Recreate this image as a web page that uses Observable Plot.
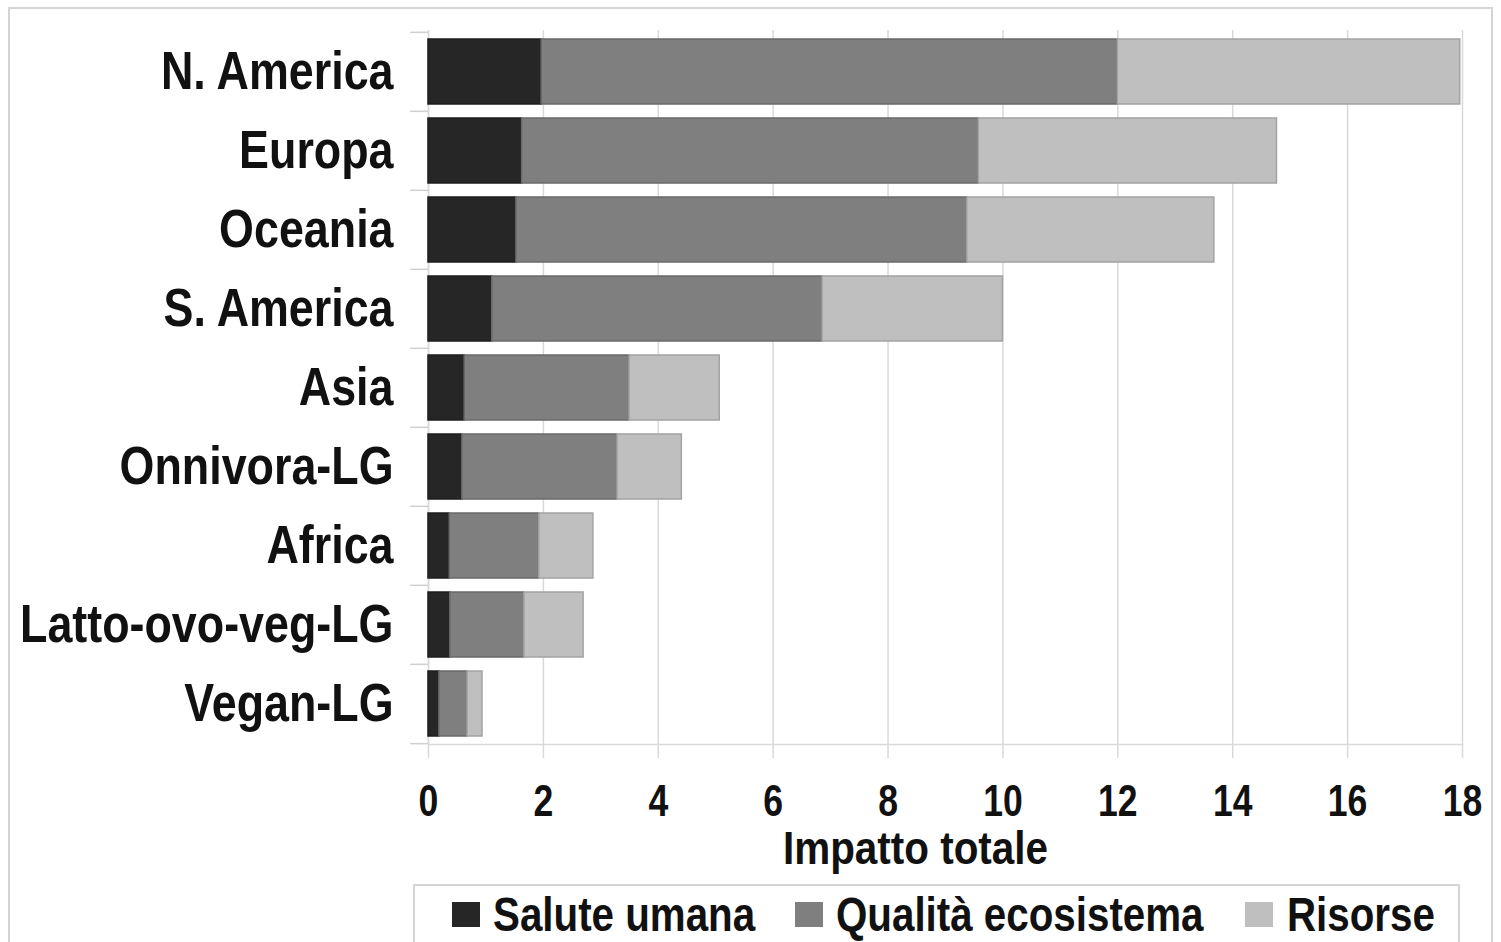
<!DOCTYPE html>
<html>
<head>
<meta charset="utf-8">
<script src="https://cdn.jsdelivr.net/npm/d3@7"></script>
<script src="https://cdn.jsdelivr.net/npm/@observablehq/plot@0.6"></script>
<style>
  html, body { margin: 0; padding: 0; background: #fff; }
  body { width: 1501px; height: 942px; position: relative; overflow: hidden;
         font-family: "Liberation Sans", Arial, sans-serif; font-weight: bold; }
  #frame { position: absolute; left: 8px; top: 7px; width: 1481px; height: 960px; border: 2px solid #d4d4d4; }
  #chart { position: absolute; left: 0; top: 0; }
  #legend { position: absolute; left: 413px; top: 884px; width: 1043px; height: 80px; border: 2px solid #d4d4d4; background: #fff; }
  .sw { position: absolute; top: 16px; width: 28px; height: 25px; }
  .lt { position: absolute; top: 5px; font-size: 48px; line-height: 48px; color: #111; white-space: nowrap;
        transform: scaleX(0.84); transform-origin: 0 50%; }
</style>
</head>
<body>
<div id="frame"></div>
<div id="chart"></div>
<div id="legend"></div>
<script>
// ---- data ----
const categories = ["N. America", "Europa", "Oceania", "S. America", "Asia", "Onnivora-LG", "Africa", "Latto-ovo-veg-LG", "Vegan-LG"];
const seriesNames = ["Salute umana", "Qualità ecosistema", "Risorse"];
const saluteUmana = [1.97, 1.63, 1.53, 1.11, 0.63, 0.59, 0.37, 0.38, 0.19];
const qualitaEcosistema = [10.03, 7.95, 7.85, 5.75, 2.87, 2.70, 1.56, 1.29, 0.49];
const risorse = [5.96, 5.19, 4.30, 3.14, 1.57, 1.12, 0.94, 1.03, 0.26];
const xTicks = [0, 2, 4, 6, 8, 10, 12, 14, 16, 18];
const axisTitle = "Impatto totale";
const fills = ["#262626", "#7f7f7f", "#bfbfbf"];
const strokes = ["#1e1e1e", "#6a6a6a", "#a3a3a3"];

// ---- table ----
const seriesValues = [saluteUmana, qualitaEcosistema, risorse];
const rows = [];
categories.forEach((c, i) => {
  let acc = 0;
  seriesValues.forEach((vals, s) => {
    rows.push({category: c, series: seriesNames[s], s, x1: acc, x2: acc + vals[i]});
    acc += vals[i];
  });
});

const W = 1501, H = 880, mTop = 30, mBottom = 136, mLeft = 428, mRight = 39;
const step = (H - mTop - mBottom) / categories.length;
const font = '"Liberation Sans", Arial, sans-serif';

const chart = Plot.plot({
  width: W,
  height: H,
  marginTop: mTop,
  marginBottom: mBottom,
  marginLeft: mLeft,
  marginRight: mRight,
  style: {fontFamily: font, fontWeight: "bold", color: "#111", background: "transparent", overflow: "visible"},
  x: {domain: [0, 18]},
  y: {domain: categories, paddingInner: 0.18, paddingOuter: 0.09},
  marks: [
    Plot.gridX(xTicks, {stroke: "#d9d9d9", strokeOpacity: 1, strokeWidth: 1.5}),
    Plot.frame({anchor: "bottom", stroke: "#d9d9d9", strokeWidth: 1.5}),
    Plot.frame({anchor: "left", stroke: "#d9d9d9", strokeWidth: 1.5}),
    // small band-boundary ticks on the category axis
    Plot.ruleY(categories, {y: d => d, x1: -0.31, x2: 0, dy: -step / 2, stroke: "#d0d0d0", strokeWidth: 1.5}),
    Plot.ruleY(categories.slice(-1), {y: d => d, x1: -0.31, x2: 0, dy: step / 2, stroke: "#d0d0d0", strokeWidth: 1.5}),
    ...seriesNames.map((name, s) =>
      Plot.barX(rows.filter(r => r.s === s), {
        y: "category", x1: "x1", x2: "x2",
        fill: fills[s], stroke: strokes[s], strokeWidth: 1.5
      })
    ),
    Plot.axisX({ticks: xTicks, tickSize: 14, text: null, stroke: "#d9d9d9", strokeWidth: 1.5, label: null}),
    Plot.axisX({ticks: xTicks, tickSize: 0, tickPadding: 40, fontSize: 45, fill: "#111", label: null}),
    Plot.axisY({tickSize: 0, tickPadding: 35, fontSize: 54, fill: "#111", label: null}),
    Plot.text([axisTitle], {frameAnchor: "bottom", dx: -30, dy: 119, lineAnchor: "bottom", fontSize: 47, fill: "#111"})
  ]
});
document.getElementById("chart").appendChild(chart);

// condense all chart text horizontally (the reference uses a narrow bold face)
chart.querySelectorAll("text").forEach(t => {
  const fs = parseFloat(t.closest("[font-size]")?.getAttribute("font-size") || 0);
  const factor = fs === 45 ? 0.79 : fs === 47 ? 0.86 : 0.83;
  const len = t.getComputedTextLength();
  if (len > 0) {
    t.setAttribute("textLength", (len * factor).toFixed(1));
    t.setAttribute("lengthAdjust", "spacingAndGlyphs");
  }
});

// ---- legend ----
const legend = document.getElementById("legend");
const swatchLeft = [37, 380, 830];
const textLeft = [78, 421, 872];
seriesNames.forEach((name, s) => {
  const sw = document.createElement("div");
  sw.className = "sw";
  sw.style.left = swatchLeft[s] + "px";
  sw.style.background = fills[s];
  legend.appendChild(sw);
  const t = document.createElement("div");
  t.className = "lt";
  t.style.left = textLeft[s] + "px";
  t.textContent = name;
  legend.appendChild(t);
});
</script>
</body>
</html>
